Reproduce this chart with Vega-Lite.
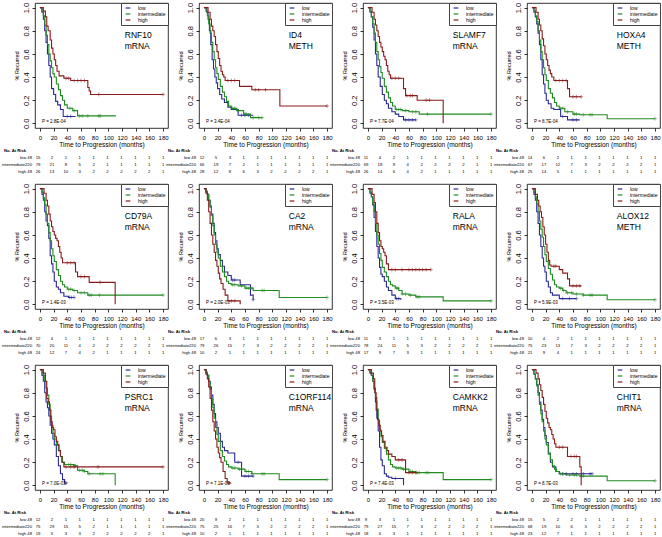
{
"$schema":"https://vega.github.io/schema/vega-lite/v6.json",
"background":"white",
"padding":{"left":1,"top":2,"right":0,"bottom":0},
"config":{
 "font":"Liberation Sans",
 "view":{"stroke":"#000","strokeWidth":0.8},
 "axis":{"grid":false,"domain":false,"ticks":true,"tickColor":"#000","tickSize":3,"tickWidth":0.8,"labelColor":"#000","titleColor":"#000","titleFontWeight":"normal","labelFlush":false,"labelOverlap":false},
 "axisX":{"labelFontSize":6,"labelPadding":3,"titleFontSize":6.5,"titlePadding":1},
 "axisY":{"labelFontSize":7.5,"labelAngle":-90,"labelAlign":"center","labelBaseline":"bottom","labelPadding":2,"titleFontSize":5.5,"titlePadding":3},
 "legend":{"orient":"top-right","offset":0,"strokeColor":"#444","fillColor":"#fff","padding":2,"symbolSize":22,"symbolStrokeWidth":1.2,"symbolOffset":2,"labelFontSize":5,"labelOffset":7,"rowPadding":0,"symbolOpacity":1}
},
"datasets":{
"info":[
{"p":1,"l1":"RNF10","l2":"mRNA","pv":"P = 2.8E-04"},
{"p":2,"l1":"ID4","l2":"METH","pv":"P = 3.4E-04"},
{"p":3,"l1":"SLAMF7","l2":"mRNA","pv":"P = 7.7E-04"},
{"p":4,"l1":"HOXA4","l2":"METH","pv":"P = 8.7E-04"},
{"p":5,"l1":"CD79A","l2":"mRNA","pv":"P = 1.4E-03"},
{"p":6,"l1":"CA2","l2":"mRNA","pv":"P = 2.0E-03"},
{"p":7,"l1":"RALA","l2":"mRNA","pv":"P = 3.5E-03"},
{"p":8,"l1":"ALOX12","l2":"METH","pv":"P = 5.9E-03"},
{"p":9,"l1":"PSRC1","l2":"mRNA","pv":"P = 7.0E-03"},
{"p":10,"l1":"C1ORF114","l2":"mRNA","pv":"P = 7.1E-03"},
{"p":11,"l1":"CAMKK2","l2":"mRNA","pv":"P = 7.4E-03"},
{"p":12,"l1":"CHIT1","l2":"mRNA","pv":"P = 8.7E-03"}
],
"km":[
{"p":1,"g":"low","t":[0,3,5,7,9,11,13,15,17,20,23,26,30,34,52],"s":[1,0.96,0.9,0.8,0.7,0.6,0.5,0.4,0.3,0.25,0.19,0.16,0.12,0.06,0.06]},
{"p":1,"g":"intermediate","t":[0,3,5,7,9,11,13,15,17,19,21,24,27,30,33,36,40,48,55,111],"s":[1,0.97,0.93,0.85,0.76,0.68,0.6,0.54,0.48,0.43,0.4,0.34,0.29,0.24,0.2,0.16,0.13,0.11,0.065,0.065]},
{"p":1,"g":"high","t":[0,5,8,10,12,15,17,19,21,23,25,28,35,45,70,72,74,180],"s":[1,0.97,0.92,0.84,0.8,0.72,0.65,0.6,0.55,0.5,0.45,0.41,0.39,0.37,0.31,0.28,0.25,0.25]},
{"p":2,"g":"low","t":[0,4,6,8,10,12,14,16,18,20,23,26,30,35,40,50,72],"s":[1,0.96,0.9,0.8,0.68,0.55,0.47,0.4,0.35,0.3,0.25,0.21,0.18,0.14,0.12,0.07,0.07]},
{"p":2,"g":"intermediate","t":[0,3,5,7,9,11,13,15,17,19,21,24,27,30,33,36,40,48,58,68,85],"s":[1,0.97,0.93,0.86,0.78,0.7,0.62,0.55,0.48,0.43,0.38,0.32,0.27,0.23,0.19,0.15,0.13,0.11,0.08,0.05,0.05]},
{"p":2,"g":"high","t":[0,6,9,11,13,15,17,19,21,23,25,27,29,31,52,70,111,180],"s":[1,0.96,0.9,0.84,0.8,0.75,0.68,0.62,0.56,0.5,0.45,0.42,0.4,0.37,0.32,0.29,0.15,0.15]},
{"p":3,"g":"low","t":[0,3,5,7,9,11,13,15,18,21,24,27,30,35,40,45,52,70],"s":[1,0.96,0.92,0.83,0.72,0.6,0.5,0.4,0.32,0.25,0.2,0.17,0.13,0.1,0.08,0.06,0.03,0.03]},
{"p":3,"g":"intermediate","t":[0,3,5,7,9,11,13,15,17,19,21,24,27,30,33,36,40,50,60,75,180],"s":[1,0.97,0.92,0.86,0.78,0.7,0.62,0.55,0.49,0.44,0.39,0.32,0.27,0.22,0.18,0.15,0.12,0.11,0.1,0.08,0.08]},
{"p":3,"g":"high","t":[0,6,9,11,13,15,17,19,21,23,25,27,29,31,33,52,55,72,110],"s":[1,0.96,0.9,0.85,0.8,0.75,0.7,0.66,0.62,0.58,0.55,0.5,0.45,0.42,0.39,0.3,0.24,0.2,0]},
{"p":4,"g":"low","t":[0,3,5,7,9,11,13,15,17,19,21,24,28,32,42,52,70],"s":[1,0.96,0.92,0.86,0.78,0.68,0.55,0.42,0.34,0.26,0.2,0.17,0.13,0.12,0.06,0.03,0.03]},
{"p":4,"g":"intermediate","t":[0,3,5,7,9,11,13,15,17,19,21,24,27,30,33,36,40,48,60,70,110,180],"s":[1,0.97,0.93,0.88,0.8,0.72,0.62,0.55,0.48,0.42,0.37,0.3,0.26,0.22,0.18,0.15,0.13,0.1,0.08,0.075,0.04,0.04]},
{"p":4,"g":"high","t":[0,6,9,11,13,15,17,19,21,23,25,27,29,32,52,55,72],"s":[1,0.96,0.9,0.85,0.8,0.73,0.67,0.6,0.55,0.5,0.46,0.43,0.4,0.37,0.3,0.23,0.23]},
{"p":5,"g":"low","t":[0,3,5,7,9,11,13,15,17,19,21,24,27,30,35,42,50],"s":[1,0.95,0.9,0.8,0.72,0.68,0.57,0.42,0.35,0.28,0.2,0.15,0.13,0.1,0.07,0.06,0.06]},
{"p":5,"g":"intermediate","t":[0,3,5,7,9,11,13,15,17,19,21,24,27,30,33,36,40,48,55,70,180],"s":[1,0.97,0.92,0.86,0.78,0.7,0.62,0.55,0.48,0.42,0.37,0.3,0.25,0.2,0.17,0.15,0.13,0.12,0.1,0.08,0.08]},
{"p":5,"g":"high","t":[0,6,9,11,13,15,17,19,21,23,25,27,29,31,33,52,55,72,110],"s":[1,0.96,0.9,0.85,0.78,0.72,0.67,0.63,0.6,0.57,0.55,0.5,0.45,0.4,0.36,0.28,0.24,0.19,0]},
{"p":6,"g":"low","t":[0,3,5,7,9,11,13,15,17,19,21,24,27,30,35,40,53,68,72],"s":[1,0.97,0.95,0.9,0.85,0.78,0.7,0.62,0.55,0.48,0.43,0.38,0.33,0.28,0.25,0.21,0.17,0.08,0.04]},
{"p":6,"g":"intermediate","t":[0,3,5,7,9,11,13,15,17,19,21,24,27,30,33,36,40,50,60,72,110,180],"s":[1,0.98,0.95,0.9,0.84,0.77,0.68,0.6,0.52,0.45,0.4,0.33,0.28,0.24,0.2,0.18,0.17,0.16,0.14,0.12,0.06,0.06]},
{"p":6,"g":"high","t":[0,3,5,7,9,11,13,15,17,19,21,23,25,28,31,35,53],"s":[1,0.96,0.9,0.8,0.7,0.6,0.52,0.45,0.38,0.33,0.27,0.22,0.18,0.13,0.08,0.03,0]},
{"p":7,"g":"low","t":[0,3,5,7,9,11,13,15,17,19,21,24,27,30,35,40,48],"s":[1,0.96,0.93,0.86,0.75,0.63,0.5,0.4,0.32,0.26,0.24,0.2,0.15,0.12,0.08,0.05,0.04]},
{"p":7,"g":"intermediate","t":[0,3,5,7,9,11,13,15,17,19,21,24,27,30,33,36,40,45,50,60,70,110,180],"s":[1,0.97,0.93,0.87,0.8,0.7,0.6,0.52,0.44,0.38,0.32,0.28,0.24,0.2,0.17,0.16,0.14,0.12,0.09,0.08,0.065,0.03,0.03]},
{"p":7,"g":"high","t":[0,6,9,11,13,15,17,19,21,23,25,27,30,92],"s":[1,0.95,0.88,0.8,0.7,0.62,0.55,0.5,0.48,0.45,0.42,0.35,0.3,0.3]},
{"p":8,"g":"low","t":[0,3,5,7,9,11,13,15,17,19,21,24,27,30,40,65],"s":[1,0.95,0.9,0.8,0.7,0.6,0.5,0.4,0.33,0.28,0.2,0.15,0.1,0.08,0.05,0.05]},
{"p":8,"g":"intermediate","t":[0,3,5,7,9,11,13,15,17,19,21,24,27,30,33,36,40,45,50,60,75,110,180],"s":[1,0.97,0.93,0.87,0.8,0.72,0.65,0.58,0.5,0.43,0.37,0.31,0.26,0.21,0.17,0.15,0.14,0.12,0.1,0.09,0.08,0.04,0.04]},
{"p":8,"g":"high","t":[0,5,8,10,12,14,16,18,20,22,24,26,28,40,45,52,55,72],"s":[1,0.95,0.9,0.85,0.8,0.75,0.67,0.6,0.52,0.45,0.38,0.34,0.33,0.3,0.27,0.22,0.16,0.16]},
{"p":9,"g":"low","t":[0,3,5,7,9,11,13,15,17,19,21,24,27,30,33,36,40],"s":[1,0.95,0.9,0.8,0.72,0.67,0.6,0.52,0.45,0.4,0.35,0.25,0.17,0.1,0.05,0.02,0.02]},
{"p":9,"g":"intermediate","t":[0,3,5,7,9,11,13,15,17,19,21,24,27,30,33,36,40,50,55,65,70,110],"s":[1,0.97,0.95,0.9,0.84,0.78,0.7,0.6,0.52,0.45,0.4,0.35,0.3,0.25,0.2,0.18,0.18,0.17,0.13,0.12,0.1,0]},
{"p":9,"g":"high","t":[0,5,8,10,12,14,16,18,20,22,24,26,28,30,32,35,180],"s":[1,0.97,0.9,0.75,0.72,0.65,0.55,0.5,0.48,0.42,0.38,0.35,0.3,0.25,0.2,0.16,0.16]},
{"p":10,"g":"low","t":[0,3,5,7,9,11,13,15,17,19,21,24,27,30,35,45,55,72],"s":[1,0.97,0.95,0.9,0.85,0.78,0.7,0.62,0.55,0.5,0.45,0.38,0.33,0.3,0.28,0.2,0.08,0.08]},
{"p":10,"g":"intermediate","t":[0,3,5,7,9,11,13,15,17,19,21,24,27,30,33,36,40,50,60,70,110,180],"s":[1,0.98,0.95,0.9,0.83,0.75,0.67,0.58,0.5,0.44,0.38,0.3,0.25,0.21,0.18,0.16,0.15,0.14,0.12,0.1,0.05,0.05]},
{"p":10,"g":"high","t":[0,3,5,7,9,11,13,15,17,19,21,23,25,28,31,34,40],"s":[1,0.96,0.92,0.85,0.75,0.65,0.55,0.47,0.4,0.33,0.28,0.24,0.2,0.12,0.06,0.02,0.02]},
{"p":11,"g":"low","t":[0,3,5,7,9,11,13,15,17,19,21,24,27,30,35,52],"s":[1,0.97,0.95,0.9,0.83,0.72,0.58,0.47,0.33,0.22,0.17,0.1,0.08,0.07,0.06,0]},
{"p":11,"g":"intermediate","t":[0,3,5,7,9,11,13,15,17,19,21,24,27,30,33,36,40,50,60,70,110,180],"s":[1,0.98,0.95,0.9,0.84,0.76,0.66,0.56,0.48,0.42,0.37,0.32,0.27,0.22,0.18,0.16,0.15,0.14,0.12,0.11,0.05,0.05]},
{"p":11,"g":"high","t":[0,5,8,10,12,14,16,18,20,22,25,28,30,35,40,55,73],"s":[1,0.97,0.92,0.8,0.65,0.57,0.52,0.47,0.43,0.38,0.33,0.3,0.27,0.25,0.22,0.11,0.11]},
{"p":12,"g":"low","t":[0,3,5,7,9,11,13,15,17,19,21,24,27,30,35,40,88],"s":[1,0.96,0.92,0.87,0.8,0.72,0.65,0.57,0.5,0.43,0.37,0.28,0.2,0.16,0.12,0.1,0.1]},
{"p":12,"g":"intermediate","t":[0,3,5,7,9,11,13,15,17,19,21,24,27,30,33,36,40,50,70,110,180],"s":[1,0.96,0.92,0.86,0.78,0.7,0.62,0.55,0.47,0.4,0.35,0.27,0.22,0.17,0.14,0.12,0.1,0.09,0.08,0.04,0.04]},
{"p":12,"g":"high","t":[0,6,9,11,13,15,17,19,21,23,25,27,29,31,33,35,52,70,72],"s":[1,0.97,0.92,0.87,0.82,0.76,0.7,0.64,0.58,0.54,0.5,0.48,0.44,0.4,0.36,0.33,0.25,0.16,0]}
],
"cens":[
{"p":1,"g":"low","t":[40,45],"s":[0.06,0.06]},
{"p":1,"g":"intermediate","t":[44,50,58,62,70,86,88],"s":[0.13,0.11,0.065,0.065,0.065,0.065,0.065]},
{"p":1,"g":"high","t":[38,42,50,55,60,65,86,180],"s":[0.39,0.39,0.37,0.37,0.37,0.37,0.25,0.25]},
{"p":2,"g":"low","t":[55,60,65],"s":[0.07,0.07,0.07]},
{"p":2,"g":"intermediate","t":[42,45,50,60,62,72,80,85],"s":[0.13,0.13,0.11,0.08,0.08,0.05,0.05,0.05]},
{"p":2,"g":"high","t":[35,40,45,75,80,90,180],"s":[0.37,0.37,0.37,0.29,0.29,0.29,0.15]},
{"p":3,"g":"low","t":[55,60,65,70],"s":[0.03,0.03,0.03,0.03]},
{"p":3,"g":"intermediate","t":[42,45,48,55,65,70,87,180],"s":[0.12,0.12,0.12,0.11,0.1,0.1,0.08,0.08]},
{"p":3,"g":"high","t":[35,40,45,57,62,65,85,90],"s":[0.39,0.39,0.39,0.24,0.24,0.24,0.2,0.2]},
{"p":4,"g":"low","t":[45,60,65],"s":[0.06,0.03,0.03]},
{"p":4,"g":"intermediate","t":[42,45,52,62,65,75,85,88,180],"s":[0.13,0.13,0.1,0.08,0.08,0.075,0.075,0.075,0.04]},
{"p":4,"g":"high","t":[35,40,45,50,60,65,72],"s":[0.37,0.37,0.37,0.37,0.23,0.23,0.23]},
{"p":5,"g":"low","t":[43,46,50],"s":[0.06,0.06,0.06]},
{"p":5,"g":"intermediate","t":[42,45,50,60,65,72,75,87,180],"s":[0.13,0.13,0.12,0.1,0.1,0.08,0.08,0.08,0.08]},
{"p":5,"g":"high","t":[40,45,50,60,65,88],"s":[0.36,0.36,0.36,0.24,0.24,0.19]},
{"p":6,"g":"low","t":[42,45,72],"s":[0.21,0.21,0.04]},
{"p":6,"g":"intermediate","t":[42,45,55,62,65,70,85,88,180],"s":[0.17,0.17,0.16,0.14,0.14,0.14,0.12,0.12,0.06]},
{"p":6,"g":"high","t":[40,45],"s":[0.03,0.03]},
{"p":7,"g":"low","t":[42,45],"s":[0.05,0.05]},
{"p":7,"g":"intermediate","t":[42,44,50,55,62,72,75,180],"s":[0.14,0.14,0.09,0.09,0.08,0.065,0.065,0.03]},
{"p":7,"g":"high","t":[35,40,50,60,65,70,75,80,85,92],"s":[0.3,0.3,0.3,0.3,0.3,0.3,0.3,0.3,0.3,0.3]},
{"p":8,"g":"low","t":[45,55,65],"s":[0.05,0.05,0.05]},
{"p":8,"g":"intermediate","t":[42,46,52,58,65,75,85,88,180],"s":[0.14,0.12,0.1,0.1,0.09,0.08,0.08,0.08,0.04]},
{"p":8,"g":"high","t":[32,35,60,65,70],"s":[0.33,0.33,0.16,0.16,0.16]},
{"p":9,"g":"low","t":[38],"s":[0.02]},
{"p":9,"g":"intermediate","t":[42,45,50,52,58,62,65,72,88,92],"s":[0.18,0.18,0.17,0.17,0.13,0.13,0.12,0.1,0.1,0.1]},
{"p":9,"g":"high","t":[38,45,50,85,180],"s":[0.16,0.16,0.16,0.16,0.16]},
{"p":10,"g":"low","t":[50,60,65,72],"s":[0.2,0.08,0.08,0.08]},
{"p":10,"g":"intermediate","t":[42,45,52,55,62,65,70,85,88,180],"s":[0.15,0.15,0.14,0.14,0.12,0.12,0.1,0.1,0.1,0.05]},
{"p":10,"g":"high","t":[37],"s":[0.02]},
{"p":11,"g":"low","t":[40],"s":[0.06]},
{"p":11,"g":"intermediate","t":[42,45,48,52,62,65,72,75,85,88,180],"s":[0.15,0.15,0.15,0.14,0.12,0.12,0.11,0.11,0.11,0.11,0.05]},
{"p":11,"g":"high","t":[45,50,60,65,70],"s":[0.22,0.22,0.11,0.11,0.11]},
{"p":12,"g":"low","t":[45,50,60,65,75,85,88],"s":[0.1,0.1,0.1,0.1,0.1,0.1,0.1]},
{"p":12,"g":"intermediate","t":[42,45,55,62,65,72,75,180],"s":[0.1,0.1,0.09,0.09,0.09,0.08,0.08,0.04]},
{"p":12,"g":"high","t":[40,45,57,62,65],"s":[0.33,0.33,0.25,0.25,0.25]}
],
"risklab":[
{"g":"low","r":1,"label":"low 48"},
{"g":"intermediate","r":2,"label":"intermediate220"},
{"g":"high","r":3,"label":"high 48"}
],
"risk":[
{"p":1,"g":"low","n":[15,2,1,1,1,1,1,1,1,1],"c":[1,2,3,4,5,6,7,8,9,10]},
{"p":1,"g":"intermediate","n":[79,21,8,5,2,1,1,1,1,1],"c":[1,2,3,4,5,6,7,8,9,10]},
{"p":1,"g":"high","n":[26,13,10,3,2,2,2,2,2,1],"c":[1,2,3,4,5,6,7,8,9,10]},
{"p":2,"g":"low","n":[12,5,3,1,1,1,1,1,1,1],"c":[1,2,3,4,5,6,7,8,9,10]},
{"p":2,"g":"intermediate","n":[66,19,7,2,1,1,1,1,1,1],"c":[1,2,3,4,5,6,7,8,9,10]},
{"p":2,"g":"high","n":[28,12,8,6,3,2,2,2,2,1],"c":[1,2,3,4,5,6,7,8,9,10]},
{"p":3,"g":"low","n":[11,4,2,1,1,1,1,1,1,1],"c":[1,2,3,4,5,6,7,8,9,10]},
{"p":3,"g":"intermediate","n":[69,18,9,4,2,2,2,2,1,1],"c":[1,2,3,4,5,6,7,8,9,10]},
{"p":3,"g":"high","n":[26,14,6,4,2,1,1,1,1,1],"c":[1,2,3,4,5,6,7,8,9,10]},
{"p":4,"g":"low","n":[14,6,2,1,1,1,1,1,1,1],"c":[1,2,3,4,5,6,7,8,9,10]},
{"p":4,"g":"intermediate","n":[67,17,12,7,3,2,2,2,2,1],"c":[1,2,3,4,5,6,7,8,9,10]},
{"p":4,"g":"high","n":[25,14,5,1,1,1,1,1,1,1],"c":[1,2,3,4,5,6,7,8,9,10]},
{"p":5,"g":"low","n":[12,4,1,1,1,1,1,1,1,1],"c":[1,2,3,4,5,6,7,8,9,10]},
{"p":5,"g":"intermediate","n":[70,20,11,4,2,2,2,2,2,1],"c":[1,2,3,4,5,6,7,8,9,10]},
{"p":5,"g":"high","n":[24,12,7,4,2,1,1,1,1,1],"c":[1,2,3,4,5,6,7,8,9,10]},
{"p":6,"g":"low","n":[17,6,3,1,1,1,1,1,1,1],"c":[1,2,3,4,5,6,7,8,9,10]},
{"p":6,"g":"intermediate","n":[79,26,15,7,3,2,2,2,2,1],"c":[1,2,3,4,5,6,7,8,9,10]},
{"p":6,"g":"high","n":[10,2,1,1,1,1,1,1,1,1],"c":[1,2,3,4,5,6,7,8,9,10]},
{"p":7,"g":"low","n":[11,3,1,1,1,1,1,1,1,1],"c":[1,2,3,4,5,6,7,8,9,10]},
{"p":7,"g":"intermediate","n":[78,24,11,5,3,2,2,2,2,1],"c":[1,2,3,4,5,6,7,8,9,10]},
{"p":7,"g":"high","n":[17,9,7,3,1,1,1,1,1,1],"c":[1,2,3,4,5,6,7,8,9,10]},
{"p":8,"g":"low","n":[10,4,2,1,1,1,1,1,1,1],"c":[1,2,3,4,5,6,7,8,9,10]},
{"p":8,"g":"intermediate","n":[75,23,13,7,3,2,2,2,2,1],"c":[1,2,3,4,5,6,7,8,9,10]},
{"p":8,"g":"high","n":[21,9,4,1,1,1,1,1,1,1],"c":[1,2,3,4,5,6,7,8,9,10]},
{"p":9,"g":"low","n":[12,2,1,1,1,1,1,1,1,1],"c":[1,2,3,4,5,6,7,8,9,10]},
{"p":9,"g":"intermediate","n":[75,29,15,5,2,1,1,1,1,1],"c":[1,2,3,4,5,6,7,8,9,10]},
{"p":9,"g":"high","n":[19,5,3,3,2,2,2,2,2,1],"c":[1,2,3,4,5,6,7,8,9,10]},
{"p":10,"g":"low","n":[20,9,2,1,1,1,1,1,1,1],"c":[1,2,3,4,5,6,7,8,9,10]},
{"p":10,"g":"intermediate","n":[75,25,16,7,3,2,2,2,2,1],"c":[1,2,3,4,5,6,7,8,9,10]},
{"p":10,"g":"high","n":[10,2,1,1,1,1,1,1,1,1],"c":[1,2,3,4,5,6,7,8,9,10]},
{"p":11,"g":"low","n":[9,3,1,1,1,1,1,1,1,1],"c":[1,2,3,4,5,6,7,8,9,10]},
{"p":11,"g":"intermediate","n":[79,27,15,7,3,2,2,2,2,1],"c":[1,2,3,4,5,6,7,8,9,10]},
{"p":11,"g":"high","n":[18,6,3,1,1,1,1,1,1,1],"c":[1,2,3,4,5,6,7,8,9,10]},
{"p":12,"g":"low","n":[15,5,2,2,1,1,1,1,1,1],"c":[1,2,3,4,5,6,7,8,9,10]},
{"p":12,"g":"intermediate","n":[68,19,10,6,3,2,2,2,2,1],"c":[1,2,3,4,5,6,7,8,9,10]},
{"p":12,"g":"high","n":[23,12,7,1,1,1,1,1,1,1],"c":[1,2,3,4,5,6,7,8,9,10]}
]
},
"columns":4,
"spacing":{"row":14,"column":31},
"bounds":"flush",
"resolve":{"scale":{"color":"independent"}},
"concat":[
{"width":133,"height":125,"layer":[
{"data":{"name":"km"},"transform":[{"filter":"datum.p==1"},{"flatten":["t","s"]}],"mark":{"type":"line","interpolate":"step-after","strokeWidth":1.1},"encoding":{"x":{"field":"t","type":"quantitative","scale":{"domain":[-7.2,187.2],"nice":false,"zero":false},"axis":{"values":[0,20,40,60,80,100,120,140,160,180],"tickCount":20,"labelOverlap":false,"title":"Time to Progression (months)"}},"y":{"field":"s","type":"quantitative","scale":{"domain":[-0.04,1.04],"nice":false,"zero":false},"axis":{"values":[0,0.2,0.4,0.6,0.8,1],"tickCount":20,"labelOverlap":false,"format":".1f","title":"% Recurred"}},"color":{"field":"g","type":"nominal","scale":{"domain":["low","intermediate","high"],"range":["#2A2A96","#228B22","#8B1A1A"]},"legend":{"title":null,"symbolType":"stroke"}}}},
{"data":{"name":"cens"},"transform":[{"filter":"datum.p==1"},{"flatten":["t","s"]}],"mark":{"type":"point","shape":"M-1,0H1M0,-1V1","size":14,"filled":false,"strokeWidth":0.8,"opacity":0.65},"encoding":{"x":{"field":"t","type":"quantitative"},"y":{"field":"s","type":"quantitative"},"color":{"field":"g","type":"nominal"}}},
{"data":{"name":"info"},"transform":[{"filter":"datum.p==1"}],"mark":{"type":"text","align":"left","fontSize":8.5},"encoding":{"x":{"datum":124},"y":{"datum":0.76},"text":{"field":"l1"}}},
{"data":{"name":"info"},"transform":[{"filter":"datum.p==1"}],"mark":{"type":"text","align":"left","fontSize":8.5},"encoding":{"x":{"datum":124},"y":{"datum":0.67},"text":{"field":"l2"}}},
{"data":{"name":"info"},"transform":[{"filter":"datum.p==1"}],"mark":{"type":"text","align":"left","fontSize":4.5},"encoding":{"x":{"datum":3},"y":{"datum":0.01},"text":{"field":"pv"}}}
]},
{"width":133,"height":125,"layer":[
{"data":{"name":"km"},"transform":[{"filter":"datum.p==2"},{"flatten":["t","s"]}],"mark":{"type":"line","interpolate":"step-after","strokeWidth":1.1},"encoding":{"x":{"field":"t","type":"quantitative","scale":{"domain":[-7.2,187.2],"nice":false,"zero":false},"axis":{"values":[0,20,40,60,80,100,120,140,160,180],"tickCount":20,"labelOverlap":false,"title":"Time to Progression (months)"}},"y":{"field":"s","type":"quantitative","scale":{"domain":[-0.04,1.04],"nice":false,"zero":false},"axis":{"values":[0,0.2,0.4,0.6,0.8,1],"tickCount":20,"labelOverlap":false,"format":".1f","title":"% Recurred"}},"color":{"field":"g","type":"nominal","scale":{"domain":["low","intermediate","high"],"range":["#2A2A96","#228B22","#8B1A1A"]},"legend":{"title":null,"symbolType":"stroke"}}}},
{"data":{"name":"cens"},"transform":[{"filter":"datum.p==2"},{"flatten":["t","s"]}],"mark":{"type":"point","shape":"M-1,0H1M0,-1V1","size":14,"filled":false,"strokeWidth":0.8,"opacity":0.65},"encoding":{"x":{"field":"t","type":"quantitative"},"y":{"field":"s","type":"quantitative"},"color":{"field":"g","type":"nominal"}}},
{"data":{"name":"info"},"transform":[{"filter":"datum.p==2"}],"mark":{"type":"text","align":"left","fontSize":8.5},"encoding":{"x":{"datum":124},"y":{"datum":0.76},"text":{"field":"l1"}}},
{"data":{"name":"info"},"transform":[{"filter":"datum.p==2"}],"mark":{"type":"text","align":"left","fontSize":8.5},"encoding":{"x":{"datum":124},"y":{"datum":0.67},"text":{"field":"l2"}}},
{"data":{"name":"info"},"transform":[{"filter":"datum.p==2"}],"mark":{"type":"text","align":"left","fontSize":4.5},"encoding":{"x":{"datum":3},"y":{"datum":0.01},"text":{"field":"pv"}}}
]},
{"width":133,"height":125,"layer":[
{"data":{"name":"km"},"transform":[{"filter":"datum.p==3"},{"flatten":["t","s"]}],"mark":{"type":"line","interpolate":"step-after","strokeWidth":1.1},"encoding":{"x":{"field":"t","type":"quantitative","scale":{"domain":[-7.2,187.2],"nice":false,"zero":false},"axis":{"values":[0,20,40,60,80,100,120,140,160,180],"tickCount":20,"labelOverlap":false,"title":"Time to Progression (months)"}},"y":{"field":"s","type":"quantitative","scale":{"domain":[-0.04,1.04],"nice":false,"zero":false},"axis":{"values":[0,0.2,0.4,0.6,0.8,1],"tickCount":20,"labelOverlap":false,"format":".1f","title":"% Recurred"}},"color":{"field":"g","type":"nominal","scale":{"domain":["low","intermediate","high"],"range":["#2A2A96","#228B22","#8B1A1A"]},"legend":{"title":null,"symbolType":"stroke"}}}},
{"data":{"name":"cens"},"transform":[{"filter":"datum.p==3"},{"flatten":["t","s"]}],"mark":{"type":"point","shape":"M-1,0H1M0,-1V1","size":14,"filled":false,"strokeWidth":0.8,"opacity":0.65},"encoding":{"x":{"field":"t","type":"quantitative"},"y":{"field":"s","type":"quantitative"},"color":{"field":"g","type":"nominal"}}},
{"data":{"name":"info"},"transform":[{"filter":"datum.p==3"}],"mark":{"type":"text","align":"left","fontSize":8.5},"encoding":{"x":{"datum":124},"y":{"datum":0.76},"text":{"field":"l1"}}},
{"data":{"name":"info"},"transform":[{"filter":"datum.p==3"}],"mark":{"type":"text","align":"left","fontSize":8.5},"encoding":{"x":{"datum":124},"y":{"datum":0.67},"text":{"field":"l2"}}},
{"data":{"name":"info"},"transform":[{"filter":"datum.p==3"}],"mark":{"type":"text","align":"left","fontSize":4.5},"encoding":{"x":{"datum":3},"y":{"datum":0.01},"text":{"field":"pv"}}}
]},
{"width":133,"height":125,"layer":[
{"data":{"name":"km"},"transform":[{"filter":"datum.p==4"},{"flatten":["t","s"]}],"mark":{"type":"line","interpolate":"step-after","strokeWidth":1.1},"encoding":{"x":{"field":"t","type":"quantitative","scale":{"domain":[-7.2,187.2],"nice":false,"zero":false},"axis":{"values":[0,20,40,60,80,100,120,140,160,180],"tickCount":20,"labelOverlap":false,"title":"Time to Progression (months)"}},"y":{"field":"s","type":"quantitative","scale":{"domain":[-0.04,1.04],"nice":false,"zero":false},"axis":{"values":[0,0.2,0.4,0.6,0.8,1],"tickCount":20,"labelOverlap":false,"format":".1f","title":"% Recurred"}},"color":{"field":"g","type":"nominal","scale":{"domain":["low","intermediate","high"],"range":["#2A2A96","#228B22","#8B1A1A"]},"legend":{"title":null,"symbolType":"stroke"}}}},
{"data":{"name":"cens"},"transform":[{"filter":"datum.p==4"},{"flatten":["t","s"]}],"mark":{"type":"point","shape":"M-1,0H1M0,-1V1","size":14,"filled":false,"strokeWidth":0.8,"opacity":0.65},"encoding":{"x":{"field":"t","type":"quantitative"},"y":{"field":"s","type":"quantitative"},"color":{"field":"g","type":"nominal"}}},
{"data":{"name":"info"},"transform":[{"filter":"datum.p==4"}],"mark":{"type":"text","align":"left","fontSize":8.5},"encoding":{"x":{"datum":124},"y":{"datum":0.76},"text":{"field":"l1"}}},
{"data":{"name":"info"},"transform":[{"filter":"datum.p==4"}],"mark":{"type":"text","align":"left","fontSize":8.5},"encoding":{"x":{"datum":124},"y":{"datum":0.67},"text":{"field":"l2"}}},
{"data":{"name":"info"},"transform":[{"filter":"datum.p==4"}],"mark":{"type":"text","align":"left","fontSize":4.5},"encoding":{"x":{"datum":3},"y":{"datum":0.01},"text":{"field":"pv"}}}
]},
{"width":133,"height":28,"view":{"stroke":null},"layer":[
{"data":{"name":"risk"},"transform":[{"filter":"datum.p==1"},{"flatten":["n","c"]},{"lookup":"g","from":{"data":{"name":"risklab"},"key":"g","fields":["r"]}}],"mark":{"type":"text","fontSize":4.2},"encoding":{"x":{"field":"c","type":"quantitative","scale":{"domain":[0.784,10.35],"nice":false,"zero":false},"axis":null},"y":{"field":"r","type":"quantitative","scale":{"domain":[-1.357,2.643],"reverse":true,"nice":false,"zero":false},"axis":null},"text":{"field":"n"}}},
{"data":{"name":"risklab"},"mark":{"type":"text","fontSize":4.2,"align":"right"},"encoding":{"x":{"datum":0.57},"y":{"field":"r","type":"quantitative"},"text":{"field":"label"}}},
{"data":{"values":[{"h":"No. At Risk"}]},"mark":{"type":"text","fontSize":4.2,"align":"left","fontWeight":"bold"},"encoding":{"x":{"datum":-1.45},"y":{"datum":0},"text":{"field":"h"}}}
]},
{"width":133,"height":28,"view":{"stroke":null},"layer":[
{"data":{"name":"risk"},"transform":[{"filter":"datum.p==2"},{"flatten":["n","c"]},{"lookup":"g","from":{"data":{"name":"risklab"},"key":"g","fields":["r"]}}],"mark":{"type":"text","fontSize":4.2},"encoding":{"x":{"field":"c","type":"quantitative","scale":{"domain":[0.784,10.35],"nice":false,"zero":false},"axis":null},"y":{"field":"r","type":"quantitative","scale":{"domain":[-1.357,2.643],"reverse":true,"nice":false,"zero":false},"axis":null},"text":{"field":"n"}}},
{"data":{"name":"risklab"},"mark":{"type":"text","fontSize":4.2,"align":"right"},"encoding":{"x":{"datum":0.57},"y":{"field":"r","type":"quantitative"},"text":{"field":"label"}}},
{"data":{"values":[{"h":"No. At Risk"}]},"mark":{"type":"text","fontSize":4.2,"align":"left","fontWeight":"bold"},"encoding":{"x":{"datum":-1.45},"y":{"datum":0},"text":{"field":"h"}}}
]},
{"width":133,"height":28,"view":{"stroke":null},"layer":[
{"data":{"name":"risk"},"transform":[{"filter":"datum.p==3"},{"flatten":["n","c"]},{"lookup":"g","from":{"data":{"name":"risklab"},"key":"g","fields":["r"]}}],"mark":{"type":"text","fontSize":4.2},"encoding":{"x":{"field":"c","type":"quantitative","scale":{"domain":[0.784,10.35],"nice":false,"zero":false},"axis":null},"y":{"field":"r","type":"quantitative","scale":{"domain":[-1.357,2.643],"reverse":true,"nice":false,"zero":false},"axis":null},"text":{"field":"n"}}},
{"data":{"name":"risklab"},"mark":{"type":"text","fontSize":4.2,"align":"right"},"encoding":{"x":{"datum":0.57},"y":{"field":"r","type":"quantitative"},"text":{"field":"label"}}},
{"data":{"values":[{"h":"No. At Risk"}]},"mark":{"type":"text","fontSize":4.2,"align":"left","fontWeight":"bold"},"encoding":{"x":{"datum":-1.45},"y":{"datum":0},"text":{"field":"h"}}}
]},
{"width":133,"height":28,"view":{"stroke":null},"layer":[
{"data":{"name":"risk"},"transform":[{"filter":"datum.p==4"},{"flatten":["n","c"]},{"lookup":"g","from":{"data":{"name":"risklab"},"key":"g","fields":["r"]}}],"mark":{"type":"text","fontSize":4.2},"encoding":{"x":{"field":"c","type":"quantitative","scale":{"domain":[0.784,10.35],"nice":false,"zero":false},"axis":null},"y":{"field":"r","type":"quantitative","scale":{"domain":[-1.357,2.643],"reverse":true,"nice":false,"zero":false},"axis":null},"text":{"field":"n"}}},
{"data":{"name":"risklab"},"mark":{"type":"text","fontSize":4.2,"align":"right"},"encoding":{"x":{"datum":0.57},"y":{"field":"r","type":"quantitative"},"text":{"field":"label"}}},
{"data":{"values":[{"h":"No. At Risk"}]},"mark":{"type":"text","fontSize":4.2,"align":"left","fontWeight":"bold"},"encoding":{"x":{"datum":-1.45},"y":{"datum":0},"text":{"field":"h"}}}
]},
{"width":133,"height":125,"layer":[
{"data":{"name":"km"},"transform":[{"filter":"datum.p==5"},{"flatten":["t","s"]}],"mark":{"type":"line","interpolate":"step-after","strokeWidth":1.1},"encoding":{"x":{"field":"t","type":"quantitative","scale":{"domain":[-7.2,187.2],"nice":false,"zero":false},"axis":{"values":[0,20,40,60,80,100,120,140,160,180],"tickCount":20,"labelOverlap":false,"title":"Time to Progression (months)"}},"y":{"field":"s","type":"quantitative","scale":{"domain":[-0.04,1.04],"nice":false,"zero":false},"axis":{"values":[0,0.2,0.4,0.6,0.8,1],"tickCount":20,"labelOverlap":false,"format":".1f","title":"% Recurred"}},"color":{"field":"g","type":"nominal","scale":{"domain":["low","intermediate","high"],"range":["#2A2A96","#228B22","#8B1A1A"]},"legend":{"title":null,"symbolType":"stroke"}}}},
{"data":{"name":"cens"},"transform":[{"filter":"datum.p==5"},{"flatten":["t","s"]}],"mark":{"type":"point","shape":"M-1,0H1M0,-1V1","size":14,"filled":false,"strokeWidth":0.8,"opacity":0.65},"encoding":{"x":{"field":"t","type":"quantitative"},"y":{"field":"s","type":"quantitative"},"color":{"field":"g","type":"nominal"}}},
{"data":{"name":"info"},"transform":[{"filter":"datum.p==5"}],"mark":{"type":"text","align":"left","fontSize":8.5},"encoding":{"x":{"datum":124},"y":{"datum":0.76},"text":{"field":"l1"}}},
{"data":{"name":"info"},"transform":[{"filter":"datum.p==5"}],"mark":{"type":"text","align":"left","fontSize":8.5},"encoding":{"x":{"datum":124},"y":{"datum":0.67},"text":{"field":"l2"}}},
{"data":{"name":"info"},"transform":[{"filter":"datum.p==5"}],"mark":{"type":"text","align":"left","fontSize":4.5},"encoding":{"x":{"datum":3},"y":{"datum":0.01},"text":{"field":"pv"}}}
]},
{"width":133,"height":125,"layer":[
{"data":{"name":"km"},"transform":[{"filter":"datum.p==6"},{"flatten":["t","s"]}],"mark":{"type":"line","interpolate":"step-after","strokeWidth":1.1},"encoding":{"x":{"field":"t","type":"quantitative","scale":{"domain":[-7.2,187.2],"nice":false,"zero":false},"axis":{"values":[0,20,40,60,80,100,120,140,160,180],"tickCount":20,"labelOverlap":false,"title":"Time to Progression (months)"}},"y":{"field":"s","type":"quantitative","scale":{"domain":[-0.04,1.04],"nice":false,"zero":false},"axis":{"values":[0,0.2,0.4,0.6,0.8,1],"tickCount":20,"labelOverlap":false,"format":".1f","title":"% Recurred"}},"color":{"field":"g","type":"nominal","scale":{"domain":["low","intermediate","high"],"range":["#2A2A96","#228B22","#8B1A1A"]},"legend":{"title":null,"symbolType":"stroke"}}}},
{"data":{"name":"cens"},"transform":[{"filter":"datum.p==6"},{"flatten":["t","s"]}],"mark":{"type":"point","shape":"M-1,0H1M0,-1V1","size":14,"filled":false,"strokeWidth":0.8,"opacity":0.65},"encoding":{"x":{"field":"t","type":"quantitative"},"y":{"field":"s","type":"quantitative"},"color":{"field":"g","type":"nominal"}}},
{"data":{"name":"info"},"transform":[{"filter":"datum.p==6"}],"mark":{"type":"text","align":"left","fontSize":8.5},"encoding":{"x":{"datum":124},"y":{"datum":0.76},"text":{"field":"l1"}}},
{"data":{"name":"info"},"transform":[{"filter":"datum.p==6"}],"mark":{"type":"text","align":"left","fontSize":8.5},"encoding":{"x":{"datum":124},"y":{"datum":0.67},"text":{"field":"l2"}}},
{"data":{"name":"info"},"transform":[{"filter":"datum.p==6"}],"mark":{"type":"text","align":"left","fontSize":4.5},"encoding":{"x":{"datum":3},"y":{"datum":0.01},"text":{"field":"pv"}}}
]},
{"width":133,"height":125,"layer":[
{"data":{"name":"km"},"transform":[{"filter":"datum.p==7"},{"flatten":["t","s"]}],"mark":{"type":"line","interpolate":"step-after","strokeWidth":1.1},"encoding":{"x":{"field":"t","type":"quantitative","scale":{"domain":[-7.2,187.2],"nice":false,"zero":false},"axis":{"values":[0,20,40,60,80,100,120,140,160,180],"tickCount":20,"labelOverlap":false,"title":"Time to Progression (months)"}},"y":{"field":"s","type":"quantitative","scale":{"domain":[-0.04,1.04],"nice":false,"zero":false},"axis":{"values":[0,0.2,0.4,0.6,0.8,1],"tickCount":20,"labelOverlap":false,"format":".1f","title":"% Recurred"}},"color":{"field":"g","type":"nominal","scale":{"domain":["low","intermediate","high"],"range":["#2A2A96","#228B22","#8B1A1A"]},"legend":{"title":null,"symbolType":"stroke"}}}},
{"data":{"name":"cens"},"transform":[{"filter":"datum.p==7"},{"flatten":["t","s"]}],"mark":{"type":"point","shape":"M-1,0H1M0,-1V1","size":14,"filled":false,"strokeWidth":0.8,"opacity":0.65},"encoding":{"x":{"field":"t","type":"quantitative"},"y":{"field":"s","type":"quantitative"},"color":{"field":"g","type":"nominal"}}},
{"data":{"name":"info"},"transform":[{"filter":"datum.p==7"}],"mark":{"type":"text","align":"left","fontSize":8.5},"encoding":{"x":{"datum":124},"y":{"datum":0.76},"text":{"field":"l1"}}},
{"data":{"name":"info"},"transform":[{"filter":"datum.p==7"}],"mark":{"type":"text","align":"left","fontSize":8.5},"encoding":{"x":{"datum":124},"y":{"datum":0.67},"text":{"field":"l2"}}},
{"data":{"name":"info"},"transform":[{"filter":"datum.p==7"}],"mark":{"type":"text","align":"left","fontSize":4.5},"encoding":{"x":{"datum":3},"y":{"datum":0.01},"text":{"field":"pv"}}}
]},
{"width":133,"height":125,"layer":[
{"data":{"name":"km"},"transform":[{"filter":"datum.p==8"},{"flatten":["t","s"]}],"mark":{"type":"line","interpolate":"step-after","strokeWidth":1.1},"encoding":{"x":{"field":"t","type":"quantitative","scale":{"domain":[-7.2,187.2],"nice":false,"zero":false},"axis":{"values":[0,20,40,60,80,100,120,140,160,180],"tickCount":20,"labelOverlap":false,"title":"Time to Progression (months)"}},"y":{"field":"s","type":"quantitative","scale":{"domain":[-0.04,1.04],"nice":false,"zero":false},"axis":{"values":[0,0.2,0.4,0.6,0.8,1],"tickCount":20,"labelOverlap":false,"format":".1f","title":"% Recurred"}},"color":{"field":"g","type":"nominal","scale":{"domain":["low","intermediate","high"],"range":["#2A2A96","#228B22","#8B1A1A"]},"legend":{"title":null,"symbolType":"stroke"}}}},
{"data":{"name":"cens"},"transform":[{"filter":"datum.p==8"},{"flatten":["t","s"]}],"mark":{"type":"point","shape":"M-1,0H1M0,-1V1","size":14,"filled":false,"strokeWidth":0.8,"opacity":0.65},"encoding":{"x":{"field":"t","type":"quantitative"},"y":{"field":"s","type":"quantitative"},"color":{"field":"g","type":"nominal"}}},
{"data":{"name":"info"},"transform":[{"filter":"datum.p==8"}],"mark":{"type":"text","align":"left","fontSize":8.5},"encoding":{"x":{"datum":124},"y":{"datum":0.76},"text":{"field":"l1"}}},
{"data":{"name":"info"},"transform":[{"filter":"datum.p==8"}],"mark":{"type":"text","align":"left","fontSize":8.5},"encoding":{"x":{"datum":124},"y":{"datum":0.67},"text":{"field":"l2"}}},
{"data":{"name":"info"},"transform":[{"filter":"datum.p==8"}],"mark":{"type":"text","align":"left","fontSize":4.5},"encoding":{"x":{"datum":3},"y":{"datum":0.01},"text":{"field":"pv"}}}
]},
{"width":133,"height":28,"view":{"stroke":null},"layer":[
{"data":{"name":"risk"},"transform":[{"filter":"datum.p==5"},{"flatten":["n","c"]},{"lookup":"g","from":{"data":{"name":"risklab"},"key":"g","fields":["r"]}}],"mark":{"type":"text","fontSize":4.2},"encoding":{"x":{"field":"c","type":"quantitative","scale":{"domain":[0.784,10.35],"nice":false,"zero":false},"axis":null},"y":{"field":"r","type":"quantitative","scale":{"domain":[-1.357,2.643],"reverse":true,"nice":false,"zero":false},"axis":null},"text":{"field":"n"}}},
{"data":{"name":"risklab"},"mark":{"type":"text","fontSize":4.2,"align":"right"},"encoding":{"x":{"datum":0.57},"y":{"field":"r","type":"quantitative"},"text":{"field":"label"}}},
{"data":{"values":[{"h":"No. At Risk"}]},"mark":{"type":"text","fontSize":4.2,"align":"left","fontWeight":"bold"},"encoding":{"x":{"datum":-1.45},"y":{"datum":0},"text":{"field":"h"}}}
]},
{"width":133,"height":28,"view":{"stroke":null},"layer":[
{"data":{"name":"risk"},"transform":[{"filter":"datum.p==6"},{"flatten":["n","c"]},{"lookup":"g","from":{"data":{"name":"risklab"},"key":"g","fields":["r"]}}],"mark":{"type":"text","fontSize":4.2},"encoding":{"x":{"field":"c","type":"quantitative","scale":{"domain":[0.784,10.35],"nice":false,"zero":false},"axis":null},"y":{"field":"r","type":"quantitative","scale":{"domain":[-1.357,2.643],"reverse":true,"nice":false,"zero":false},"axis":null},"text":{"field":"n"}}},
{"data":{"name":"risklab"},"mark":{"type":"text","fontSize":4.2,"align":"right"},"encoding":{"x":{"datum":0.57},"y":{"field":"r","type":"quantitative"},"text":{"field":"label"}}},
{"data":{"values":[{"h":"No. At Risk"}]},"mark":{"type":"text","fontSize":4.2,"align":"left","fontWeight":"bold"},"encoding":{"x":{"datum":-1.45},"y":{"datum":0},"text":{"field":"h"}}}
]},
{"width":133,"height":28,"view":{"stroke":null},"layer":[
{"data":{"name":"risk"},"transform":[{"filter":"datum.p==7"},{"flatten":["n","c"]},{"lookup":"g","from":{"data":{"name":"risklab"},"key":"g","fields":["r"]}}],"mark":{"type":"text","fontSize":4.2},"encoding":{"x":{"field":"c","type":"quantitative","scale":{"domain":[0.784,10.35],"nice":false,"zero":false},"axis":null},"y":{"field":"r","type":"quantitative","scale":{"domain":[-1.357,2.643],"reverse":true,"nice":false,"zero":false},"axis":null},"text":{"field":"n"}}},
{"data":{"name":"risklab"},"mark":{"type":"text","fontSize":4.2,"align":"right"},"encoding":{"x":{"datum":0.57},"y":{"field":"r","type":"quantitative"},"text":{"field":"label"}}},
{"data":{"values":[{"h":"No. At Risk"}]},"mark":{"type":"text","fontSize":4.2,"align":"left","fontWeight":"bold"},"encoding":{"x":{"datum":-1.45},"y":{"datum":0},"text":{"field":"h"}}}
]},
{"width":133,"height":28,"view":{"stroke":null},"layer":[
{"data":{"name":"risk"},"transform":[{"filter":"datum.p==8"},{"flatten":["n","c"]},{"lookup":"g","from":{"data":{"name":"risklab"},"key":"g","fields":["r"]}}],"mark":{"type":"text","fontSize":4.2},"encoding":{"x":{"field":"c","type":"quantitative","scale":{"domain":[0.784,10.35],"nice":false,"zero":false},"axis":null},"y":{"field":"r","type":"quantitative","scale":{"domain":[-1.357,2.643],"reverse":true,"nice":false,"zero":false},"axis":null},"text":{"field":"n"}}},
{"data":{"name":"risklab"},"mark":{"type":"text","fontSize":4.2,"align":"right"},"encoding":{"x":{"datum":0.57},"y":{"field":"r","type":"quantitative"},"text":{"field":"label"}}},
{"data":{"values":[{"h":"No. At Risk"}]},"mark":{"type":"text","fontSize":4.2,"align":"left","fontWeight":"bold"},"encoding":{"x":{"datum":-1.45},"y":{"datum":0},"text":{"field":"h"}}}
]},
{"width":133,"height":125,"layer":[
{"data":{"name":"km"},"transform":[{"filter":"datum.p==9"},{"flatten":["t","s"]}],"mark":{"type":"line","interpolate":"step-after","strokeWidth":1.1},"encoding":{"x":{"field":"t","type":"quantitative","scale":{"domain":[-7.2,187.2],"nice":false,"zero":false},"axis":{"values":[0,20,40,60,80,100,120,140,160,180],"tickCount":20,"labelOverlap":false,"title":"Time to Progression (months)"}},"y":{"field":"s","type":"quantitative","scale":{"domain":[-0.04,1.04],"nice":false,"zero":false},"axis":{"values":[0,0.2,0.4,0.6,0.8,1],"tickCount":20,"labelOverlap":false,"format":".1f","title":"% Recurred"}},"color":{"field":"g","type":"nominal","scale":{"domain":["low","intermediate","high"],"range":["#2A2A96","#228B22","#8B1A1A"]},"legend":{"title":null,"symbolType":"stroke"}}}},
{"data":{"name":"cens"},"transform":[{"filter":"datum.p==9"},{"flatten":["t","s"]}],"mark":{"type":"point","shape":"M-1,0H1M0,-1V1","size":14,"filled":false,"strokeWidth":0.8,"opacity":0.65},"encoding":{"x":{"field":"t","type":"quantitative"},"y":{"field":"s","type":"quantitative"},"color":{"field":"g","type":"nominal"}}},
{"data":{"name":"info"},"transform":[{"filter":"datum.p==9"}],"mark":{"type":"text","align":"left","fontSize":8.5},"encoding":{"x":{"datum":124},"y":{"datum":0.76},"text":{"field":"l1"}}},
{"data":{"name":"info"},"transform":[{"filter":"datum.p==9"}],"mark":{"type":"text","align":"left","fontSize":8.5},"encoding":{"x":{"datum":124},"y":{"datum":0.67},"text":{"field":"l2"}}},
{"data":{"name":"info"},"transform":[{"filter":"datum.p==9"}],"mark":{"type":"text","align":"left","fontSize":4.5},"encoding":{"x":{"datum":3},"y":{"datum":0.01},"text":{"field":"pv"}}}
]},
{"width":133,"height":125,"layer":[
{"data":{"name":"km"},"transform":[{"filter":"datum.p==10"},{"flatten":["t","s"]}],"mark":{"type":"line","interpolate":"step-after","strokeWidth":1.1},"encoding":{"x":{"field":"t","type":"quantitative","scale":{"domain":[-7.2,187.2],"nice":false,"zero":false},"axis":{"values":[0,20,40,60,80,100,120,140,160,180],"tickCount":20,"labelOverlap":false,"title":"Time to Progression (months)"}},"y":{"field":"s","type":"quantitative","scale":{"domain":[-0.04,1.04],"nice":false,"zero":false},"axis":{"values":[0,0.2,0.4,0.6,0.8,1],"tickCount":20,"labelOverlap":false,"format":".1f","title":"% Recurred"}},"color":{"field":"g","type":"nominal","scale":{"domain":["low","intermediate","high"],"range":["#2A2A96","#228B22","#8B1A1A"]},"legend":{"title":null,"symbolType":"stroke"}}}},
{"data":{"name":"cens"},"transform":[{"filter":"datum.p==10"},{"flatten":["t","s"]}],"mark":{"type":"point","shape":"M-1,0H1M0,-1V1","size":14,"filled":false,"strokeWidth":0.8,"opacity":0.65},"encoding":{"x":{"field":"t","type":"quantitative"},"y":{"field":"s","type":"quantitative"},"color":{"field":"g","type":"nominal"}}},
{"data":{"name":"info"},"transform":[{"filter":"datum.p==10"}],"mark":{"type":"text","align":"left","fontSize":8.5},"encoding":{"x":{"datum":124},"y":{"datum":0.76},"text":{"field":"l1"}}},
{"data":{"name":"info"},"transform":[{"filter":"datum.p==10"}],"mark":{"type":"text","align":"left","fontSize":8.5},"encoding":{"x":{"datum":124},"y":{"datum":0.67},"text":{"field":"l2"}}},
{"data":{"name":"info"},"transform":[{"filter":"datum.p==10"}],"mark":{"type":"text","align":"left","fontSize":4.5},"encoding":{"x":{"datum":3},"y":{"datum":0.01},"text":{"field":"pv"}}}
]},
{"width":133,"height":125,"layer":[
{"data":{"name":"km"},"transform":[{"filter":"datum.p==11"},{"flatten":["t","s"]}],"mark":{"type":"line","interpolate":"step-after","strokeWidth":1.1},"encoding":{"x":{"field":"t","type":"quantitative","scale":{"domain":[-7.2,187.2],"nice":false,"zero":false},"axis":{"values":[0,20,40,60,80,100,120,140,160,180],"tickCount":20,"labelOverlap":false,"title":"Time to Progression (months)"}},"y":{"field":"s","type":"quantitative","scale":{"domain":[-0.04,1.04],"nice":false,"zero":false},"axis":{"values":[0,0.2,0.4,0.6,0.8,1],"tickCount":20,"labelOverlap":false,"format":".1f","title":"% Recurred"}},"color":{"field":"g","type":"nominal","scale":{"domain":["low","intermediate","high"],"range":["#2A2A96","#228B22","#8B1A1A"]},"legend":{"title":null,"symbolType":"stroke"}}}},
{"data":{"name":"cens"},"transform":[{"filter":"datum.p==11"},{"flatten":["t","s"]}],"mark":{"type":"point","shape":"M-1,0H1M0,-1V1","size":14,"filled":false,"strokeWidth":0.8,"opacity":0.65},"encoding":{"x":{"field":"t","type":"quantitative"},"y":{"field":"s","type":"quantitative"},"color":{"field":"g","type":"nominal"}}},
{"data":{"name":"info"},"transform":[{"filter":"datum.p==11"}],"mark":{"type":"text","align":"left","fontSize":8.5},"encoding":{"x":{"datum":124},"y":{"datum":0.76},"text":{"field":"l1"}}},
{"data":{"name":"info"},"transform":[{"filter":"datum.p==11"}],"mark":{"type":"text","align":"left","fontSize":8.5},"encoding":{"x":{"datum":124},"y":{"datum":0.67},"text":{"field":"l2"}}},
{"data":{"name":"info"},"transform":[{"filter":"datum.p==11"}],"mark":{"type":"text","align":"left","fontSize":4.5},"encoding":{"x":{"datum":3},"y":{"datum":0.01},"text":{"field":"pv"}}}
]},
{"width":133,"height":125,"layer":[
{"data":{"name":"km"},"transform":[{"filter":"datum.p==12"},{"flatten":["t","s"]}],"mark":{"type":"line","interpolate":"step-after","strokeWidth":1.1},"encoding":{"x":{"field":"t","type":"quantitative","scale":{"domain":[-7.2,187.2],"nice":false,"zero":false},"axis":{"values":[0,20,40,60,80,100,120,140,160,180],"tickCount":20,"labelOverlap":false,"title":"Time to Progression (months)"}},"y":{"field":"s","type":"quantitative","scale":{"domain":[-0.04,1.04],"nice":false,"zero":false},"axis":{"values":[0,0.2,0.4,0.6,0.8,1],"tickCount":20,"labelOverlap":false,"format":".1f","title":"% Recurred"}},"color":{"field":"g","type":"nominal","scale":{"domain":["low","intermediate","high"],"range":["#2A2A96","#228B22","#8B1A1A"]},"legend":{"title":null,"symbolType":"stroke"}}}},
{"data":{"name":"cens"},"transform":[{"filter":"datum.p==12"},{"flatten":["t","s"]}],"mark":{"type":"point","shape":"M-1,0H1M0,-1V1","size":14,"filled":false,"strokeWidth":0.8,"opacity":0.65},"encoding":{"x":{"field":"t","type":"quantitative"},"y":{"field":"s","type":"quantitative"},"color":{"field":"g","type":"nominal"}}},
{"data":{"name":"info"},"transform":[{"filter":"datum.p==12"}],"mark":{"type":"text","align":"left","fontSize":8.5},"encoding":{"x":{"datum":124},"y":{"datum":0.76},"text":{"field":"l1"}}},
{"data":{"name":"info"},"transform":[{"filter":"datum.p==12"}],"mark":{"type":"text","align":"left","fontSize":8.5},"encoding":{"x":{"datum":124},"y":{"datum":0.67},"text":{"field":"l2"}}},
{"data":{"name":"info"},"transform":[{"filter":"datum.p==12"}],"mark":{"type":"text","align":"left","fontSize":4.5},"encoding":{"x":{"datum":3},"y":{"datum":0.01},"text":{"field":"pv"}}}
]},
{"width":133,"height":28,"view":{"stroke":null},"layer":[
{"data":{"name":"risk"},"transform":[{"filter":"datum.p==9"},{"flatten":["n","c"]},{"lookup":"g","from":{"data":{"name":"risklab"},"key":"g","fields":["r"]}}],"mark":{"type":"text","fontSize":4.2},"encoding":{"x":{"field":"c","type":"quantitative","scale":{"domain":[0.784,10.35],"nice":false,"zero":false},"axis":null},"y":{"field":"r","type":"quantitative","scale":{"domain":[-1.357,2.643],"reverse":true,"nice":false,"zero":false},"axis":null},"text":{"field":"n"}}},
{"data":{"name":"risklab"},"mark":{"type":"text","fontSize":4.2,"align":"right"},"encoding":{"x":{"datum":0.57},"y":{"field":"r","type":"quantitative"},"text":{"field":"label"}}},
{"data":{"values":[{"h":"No. At Risk"}]},"mark":{"type":"text","fontSize":4.2,"align":"left","fontWeight":"bold"},"encoding":{"x":{"datum":-1.45},"y":{"datum":0},"text":{"field":"h"}}}
]},
{"width":133,"height":28,"view":{"stroke":null},"layer":[
{"data":{"name":"risk"},"transform":[{"filter":"datum.p==10"},{"flatten":["n","c"]},{"lookup":"g","from":{"data":{"name":"risklab"},"key":"g","fields":["r"]}}],"mark":{"type":"text","fontSize":4.2},"encoding":{"x":{"field":"c","type":"quantitative","scale":{"domain":[0.784,10.35],"nice":false,"zero":false},"axis":null},"y":{"field":"r","type":"quantitative","scale":{"domain":[-1.357,2.643],"reverse":true,"nice":false,"zero":false},"axis":null},"text":{"field":"n"}}},
{"data":{"name":"risklab"},"mark":{"type":"text","fontSize":4.2,"align":"right"},"encoding":{"x":{"datum":0.57},"y":{"field":"r","type":"quantitative"},"text":{"field":"label"}}},
{"data":{"values":[{"h":"No. At Risk"}]},"mark":{"type":"text","fontSize":4.2,"align":"left","fontWeight":"bold"},"encoding":{"x":{"datum":-1.45},"y":{"datum":0},"text":{"field":"h"}}}
]},
{"width":133,"height":28,"view":{"stroke":null},"layer":[
{"data":{"name":"risk"},"transform":[{"filter":"datum.p==11"},{"flatten":["n","c"]},{"lookup":"g","from":{"data":{"name":"risklab"},"key":"g","fields":["r"]}}],"mark":{"type":"text","fontSize":4.2},"encoding":{"x":{"field":"c","type":"quantitative","scale":{"domain":[0.784,10.35],"nice":false,"zero":false},"axis":null},"y":{"field":"r","type":"quantitative","scale":{"domain":[-1.357,2.643],"reverse":true,"nice":false,"zero":false},"axis":null},"text":{"field":"n"}}},
{"data":{"name":"risklab"},"mark":{"type":"text","fontSize":4.2,"align":"right"},"encoding":{"x":{"datum":0.57},"y":{"field":"r","type":"quantitative"},"text":{"field":"label"}}},
{"data":{"values":[{"h":"No. At Risk"}]},"mark":{"type":"text","fontSize":4.2,"align":"left","fontWeight":"bold"},"encoding":{"x":{"datum":-1.45},"y":{"datum":0},"text":{"field":"h"}}}
]},
{"width":133,"height":28,"view":{"stroke":null},"layer":[
{"data":{"name":"risk"},"transform":[{"filter":"datum.p==12"},{"flatten":["n","c"]},{"lookup":"g","from":{"data":{"name":"risklab"},"key":"g","fields":["r"]}}],"mark":{"type":"text","fontSize":4.2},"encoding":{"x":{"field":"c","type":"quantitative","scale":{"domain":[0.784,10.35],"nice":false,"zero":false},"axis":null},"y":{"field":"r","type":"quantitative","scale":{"domain":[-1.357,2.643],"reverse":true,"nice":false,"zero":false},"axis":null},"text":{"field":"n"}}},
{"data":{"name":"risklab"},"mark":{"type":"text","fontSize":4.2,"align":"right"},"encoding":{"x":{"datum":0.57},"y":{"field":"r","type":"quantitative"},"text":{"field":"label"}}},
{"data":{"values":[{"h":"No. At Risk"}]},"mark":{"type":"text","fontSize":4.2,"align":"left","fontWeight":"bold"},"encoding":{"x":{"datum":-1.45},"y":{"datum":0},"text":{"field":"h"}}}
]}
]
}
